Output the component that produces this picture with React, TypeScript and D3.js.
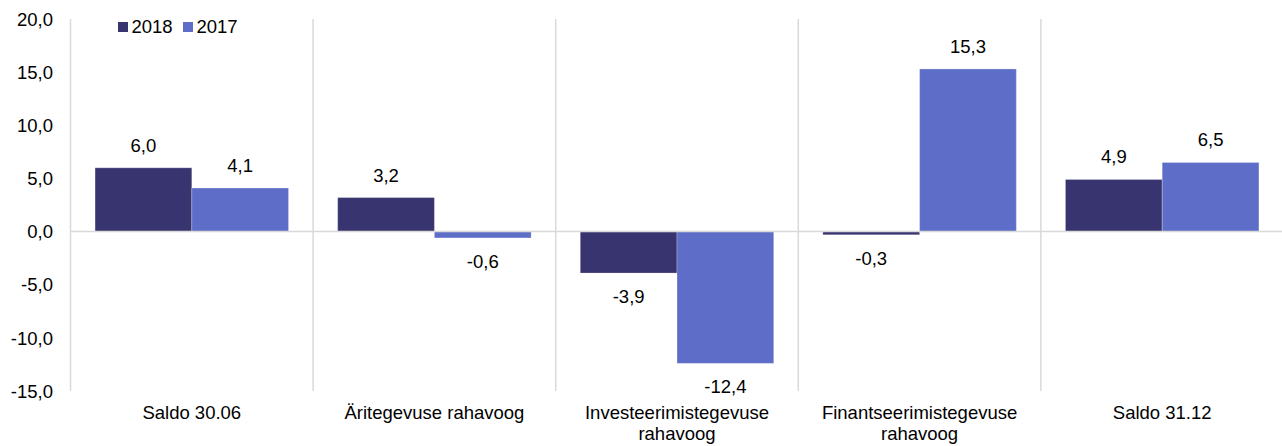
import React, { useEffect, useRef } from "react";
import * as d3 from "d3";

const categories = [
  ["Saldo 30.06"],
  ["Äritegevuse rahavoog"],
  ["Investeerimistegevuse", "rahavoog"],
  ["Finantseerimistegevuse", "rahavoog"],
  ["Saldo 31.12"],
];
const series = ["2018", "2017"];
const values2018 = [6.0, 3.2, -3.9, -0.3, 4.9];
const values2017 = [4.1, -0.6, -12.4, 15.3, 6.5];
const yTicks = [20, 15, 10, 5, 0, -5, -10, -15];

const colors = ["#38346f", "#5e6ec8"];

function App() {
  const ref = useRef<SVGSVGElement | null>(null);

  useEffect(() => {
    drawChart();
  }, []);

  const drawChart = () => {
    const svg = d3.select(ref.current);
    svg.selectAll("*").remove();

    const font = "'Liberation Sans', Arial, sans-serif";
    const fontSize = "18.5px";
    const left = 70.5, top = 19, bottom = 391;
    const bandW = 242.6;
    const fmt = (v: number) => d3.format(".1f")(v).replace(".", ",").replace("−", "-");

    const x = d3.scaleBand()
      .domain(categories.map((d, i) => String(i)))
      .range([left, left + bandW * categories.length])
      .paddingInner(0)
      .paddingOuter(0);
    const xs = d3.scaleBand()
      .domain(series)
      .range([0, bandW])
      .paddingInner(0)
      .paddingOuter(0.254);
    const y = d3.scaleLinear().domain([-15, 20]).range([bottom, top]);

    // vertical separators
    const seps = d3.range(categories.length + 1).map(i => left + i * bandW);
    svg.append("g").selectAll("line")
      .data(seps)
      .enter()
      .append("line")
      .attr("x1", d => d).attr("x2", d => d)
      .attr("y1", top).attr("y2", bottom)
      .attr("stroke", "#d9d9d9")
      .attr("stroke-width", 1.5);

    // y tick labels
    svg.append("g").selectAll("text")
      .data(yTicks)
      .enter()
      .append("text")
      .attr("x", 53)
      .attr("y", d => y(d))
      .attr("dy", "0.36em")
      .attr("text-anchor", "end")
      .attr("font-family", font)
      .attr("font-size", fontSize)
      .attr("fill", "#000")
      .text(d => fmt(d));

    const rows = categories.map((c, i) => ({ i, vals: [values2018[i], values2017[i]] }));

    const groups = svg.append("g").selectAll("g")
      .data(rows)
      .enter()
      .append("g")
      .attr("transform", d => "translate(" + x(String(d.i)) + ",0)");

    const bars = groups.selectAll("g")
      .data(d => d.vals.map((v, j) => ({ v, s: series[j], j })))
      .enter()
      .append("g");

    bars.append("rect")
      .attr("x", d => xs(d.s) as number)
      .attr("width", xs.bandwidth())
      .attr("y", d => y(Math.max(0, d.v)))
      .attr("height", d => Math.abs(y(d.v) - y(0)))
      .attr("fill", d => colors[d.j])
      .attr("stroke", "rgba(255,255,255,0.25)")
      .attr("stroke-width", 1);

    bars.append("text")
      .attr("x", d => (xs(d.s) as number) + xs.bandwidth() / 2)
      .attr("y", d => d.v >= 0 ? y(d.v) - 16 : y(d.v) + 30)
      .attr("text-anchor", "middle")
      .attr("font-family", font)
      .attr("font-size", fontSize)
      .attr("fill", "#000")
      .text(d => fmt(d.v));

    // zero line
    svg.append("line")
      .attr("x1", left).attr("x2", 1282)
      .attr("y1", y(0)).attr("y2", y(0))
      .attr("stroke", "#d9d9d9")
      .attr("stroke-width", 1.5);

    // category labels
    const labels = svg.append("g").selectAll("text")
      .data(categories)
      .enter()
      .append("text")
      .attr("x", (d, i) => (x(String(i)) as number) + bandW / 2)
      .attr("y", 419)
      .attr("text-anchor", "middle")
      .attr("font-family", font)
      .attr("font-size", fontSize)
      .attr("fill", "#000");
    labels.selectAll("tspan")
      .data(d => d)
      .enter()
      .append("tspan")
      .attr("x", function () { return (this as any).parentNode.getAttribute("x"); })
      .attr("dy", (d, i) => i === 0 ? 0 : 21)
      .text(d => d);

    // legend
    const legend = svg.append("g");
    const lx = [118, 183];
    series.forEach((s, j) => {
      legend.append("rect")
        .attr("x", lx[j]).attr("y", 22)
        .attr("width", 10).attr("height", 10)
        .attr("fill", colors[j]);
      legend.append("text")
        .attr("x", lx[j] + 13.5).attr("y", 33)
        .attr("font-family", font)
        .attr("font-size", fontSize)
        .attr("fill", "#000")
        .text(s);
    });
  };

  return (
    <svg
      ref={ref}
      width={1282}
      height={446}
      style={{ position: "absolute", left: 0, top: 0, background: "#fff" }}
    />
  );
}

export default App;
